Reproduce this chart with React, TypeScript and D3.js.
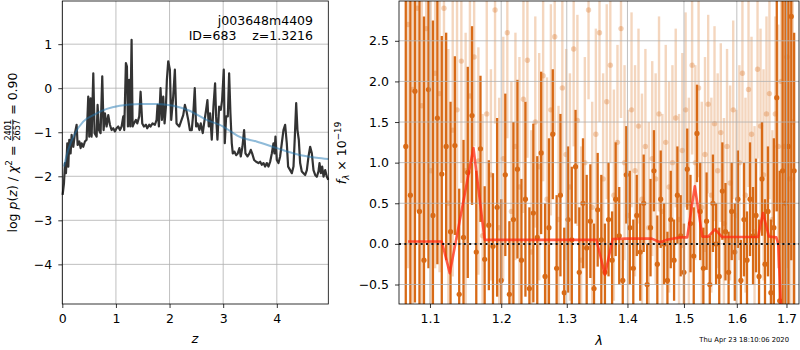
import { useEffect, useRef } from "react";
import * as d3 from "d3";

// p(z) curve: redshift grid and log p(z)
const pzZ = [
  0.006, 0.031, 0.05, 0.068, 0.093, 0.112, 0.13, 0.155, 0.174, 0.205,
  0.236, 0.267, 0.286, 0.317, 0.342, 0.36, 0.391, 0.422, 0.453, 0.484,
  0.503, 0.528, 0.547, 0.578, 0.602, 0.64, 0.658, 0.683, 0.714, 0.745,
  0.77, 0.795, 0.826, 0.857, 0.888, 0.919, 0.95, 0.981, 1.012, 1.043,
  1.075, 1.106, 1.137, 1.155, 1.186, 1.205, 1.224, 1.248, 1.267, 1.292,
  1.311, 1.335, 1.373, 1.398, 1.435, 1.46, 1.491, 1.522, 1.559, 1.584,
  1.621, 1.646, 1.683, 1.727, 1.758, 1.776, 1.801, 1.832, 1.857, 1.882,
  1.907, 1.932, 1.95, 1.975, 2.006, 2.031, 2.068, 2.099, 2.13, 2.18,
  2.224, 2.255, 2.286, 2.317, 2.348, 2.379, 2.414, 2.445, 2.47, 2.495,
  2.52, 2.557, 2.582, 2.619, 2.644, 2.682, 2.706, 2.731, 2.756, 2.787,
  2.818, 2.849, 2.868, 2.893, 2.924, 2.955, 2.98, 3.011, 3.03, 3.055,
  3.086, 3.111, 3.135, 3.16, 3.179, 3.21, 3.241, 3.272, 3.303, 3.328,
  3.359, 3.39, 3.415, 3.453, 3.49, 3.515, 3.54, 3.577, 3.614, 3.658,
  3.689, 3.72, 3.751, 3.782, 3.813, 3.844, 3.876, 3.907, 3.938, 3.956,
  3.975, 4.0, 4.031, 4.062, 4.093, 4.124, 4.155, 4.186, 4.211, 4.249,
  4.28, 4.311, 4.336, 4.361, 4.385, 4.41, 4.435, 4.466, 4.497, 4.529,
  4.56, 4.591, 4.622, 4.653, 4.684, 4.715, 4.746, 4.777, 4.796, 4.821,
  4.846, 4.871, 4.902, 4.933, 4.96,
];
const pzLog = [
  -2.42, -2.16, -1.7, -1.93, -1.25, -1.78, -1.17, -1.48, -1.06, -1.33,
  -1.02, -0.83, -1.29, -1.21, -1.36, -1.25, -1.33, -1.21, -1.17, -0.19,
  -1.1, -0.23, -1.1, 0.34, -1.02, -1.1, -0.38, -0.95, -1.02, 0.27,
  -0.95, -0.57, -0.87, -0.61, -0.83, -0.95, -0.91, -0.98, -0.91, -0.87,
  -0.95, -0.87, -0.64, -0.95, 0.57, 0.49, -0.87, 0.19, -0.87, 1.1,
  -0.87, -0.8, -0.72, -0.8, -0.64, -0.08, -0.8, -0.87, -0.83, -0.91,
  -0.83, -0.87, -0.8, -0.83, -0.72, -0.38, -0.87, 0.0, -0.72, -0.19,
  -0.8, -0.42, 0.19, 0.61, 0.42, -0.72, -0.19, 0.42, -0.8, -0.87,
  -0.72, -0.61, -0.38, -0.53, -0.72, -0.95, -0.95, -0.53, 0.0, -0.87,
  -0.8, -0.95, -0.8, -1.02, -0.8, -0.49, -0.27, -0.87, -0.57, -1.17,
  -0.42, 0.11, -0.64, -1.17, -0.42, -0.49, -0.27, 0.42, -1.25, -0.64,
  -0.64, 0.34, -0.57, -1.25, -1.48, -1.44, -1.52, -1.48, -1.36, -1.55,
  -1.33, -0.95, -1.48, -1.55, -1.48, -1.4, -1.48, -1.63, -1.67, -1.7,
  -1.67, -1.74, -1.7, -1.78, -1.7, -1.78, -1.67, -1.48, -1.25, -1.48,
  -1.1, -1.63, -1.7, -1.55, -1.25, -0.95, -0.83, -1.25, -1.78, -1.86,
  -1.93, -1.78, -1.1, -0.34, -0.95, -1.17, -1.7, -1.89, -1.93, -1.97,
  -1.86, -1.55, -1.33, -1.48, -1.86, -1.97, -2.01, -1.89, -1.7, -1.93,
  -1.78, -2.01, -1.86, -2.01, -2.08,
];

// prior
const priorZ = [0.03, 0.11, 0.24, 0.39, 0.58, 0.83, 1.07, 1.45, 1.76, 2.07, 2.35, 2.69, 3.0, 3.19, 3.28, 3.62, 4.0, 4.37, 4.74, 4.96];
const priorLog = [-1.78, -1.4, -1.02, -0.76, -0.61, -0.47, -0.4, -0.36, -0.36, -0.4, -0.5, -0.72, -0.87, -1.02, -1.09, -1.21, -1.36, -1.5, -1.58, -1.61];

// spectrum, first set (solid)
const darkWave = [
  1.068, 1.074, 1.08, 1.086, 1.092, 1.098, 1.104, 1.11, 1.116, 1.122,
  1.128, 1.134, 1.14, 1.146, 1.152, 1.158, 1.164, 1.17, 1.176, 1.182,
  1.188, 1.194, 1.2, 1.206, 1.212, 1.218, 1.224, 1.23, 1.236, 1.242,
  1.248, 1.254, 1.26, 1.266, 1.272, 1.278, 1.284, 1.29, 1.296, 1.302,
  1.308, 1.314, 1.32, 1.326, 1.332, 1.338, 1.344, 1.35, 1.356, 1.362,
  1.368, 1.374, 1.38, 1.386, 1.392, 1.398, 1.404, 1.41, 1.416, 1.422,
  1.428, 1.434, 1.44, 1.446, 1.452, 1.458, 1.464, 1.47, 1.476, 1.482,
  1.488, 1.494, 1.5, 1.506, 1.512, 1.518, 1.524, 1.53, 1.536, 1.542,
  1.548, 1.554, 1.56, 1.566, 1.572, 1.578, 1.584, 1.59, 1.596, 1.602,
  1.608, 1.614, 1.62, 1.626, 1.632, 1.638, 1.644, 1.65, 1.656, 1.662,
  1.668, 1.674, 1.68, 1.686, 1.692, 1.698, 1.704, 1.71, 1.716,
];
const darkFlux = [
  1.2, 0.6, 1.88, 0.4, -0.2, 1.9, 0.35, 1.55, 0.86, 1.2,
  0.15, 1.21, -0.62, 0.08, 0.88, 1.58, -0.1, 1.17, -0.19, 0.23,
  -0.03, 0.45, -0.45, 0.85, -0.62, 0.3, 0.92, -0.2, 0.55, -0.55,
  0.38, 0.08, 1.12, -0.4, 0.2, 1.35, -0.3, 0.6, -0.6, 0.3,
  0.05, 0.95, -0.35, 0.5, -0.05, 0.28, -0.55, 0.42, 0.05, -0.35,
  0.3, -0.2, 0.55, 0.1, -0.45, 0.85, 0.2, -0.3, 0.35, -0.1,
  0.5, -0.5, 0.2, 0.9, -0.25, 0.55, 0.0, -0.45, 0.3, -0.2,
  0.6, 0.1, -0.35, 0.92, 0.25, -0.15, 1.36, 0.4, -0.3, 0.28,
  -0.5, 0.5, 0.0, -0.4, 0.65, 0.15, -0.35, 0.4, -0.1, 0.55,
  -0.45, 0.3, -0.2, 0.55, 0.1, 0.35, -0.4, 0.8, -0.25, 0.4,
  -0.6, 0.2, 1.8, -0.7, 0.9, 0.5, 1.2, 2.8, 0.9,
];
const darkErr = [
  3.5, 3.2, 2.6, 2.9, 3.0, 2.2, 2.4, 1.8, 1.7, 1.4,
  1.6, 1.1, 1.3, 1.2, 1.3, 1.1, 1.0, 0.9, 0.9, 0.8,
  0.9, 1.1, 1.0, 1.0, 0.9, 1.2, 1.1, 1.0, 1.2, 1.0,
  1.1, 1.0, 1.0, 0.9, 1.1, 0.8, 0.9, 1.0, 0.8, 0.9,
  0.9, 0.7, 0.8, 0.8, 0.9, 0.7, 0.8, 0.7, 0.8, 0.6,
  0.7, 0.6, 0.7, 0.6, 0.5, 0.6, 0.7, 0.6, 0.5, 0.6,
  0.6, 0.5, 0.6, 0.5, 0.6, 0.6, 0.5, 0.6, 0.6, 0.5,
  0.6, 0.5, 0.6, 0.5, 0.6, 0.6, 0.6, 0.6, 0.5, 0.6,
  0.6, 0.6, 0.5, 0.6, 0.6, 0.6, 0.5, 0.6, 0.6, 0.6,
  0.5, 0.7, 0.6, 0.7, 0.6, 0.7, 0.7, 0.7, 0.8, 0.8,
  0.9, 1.1, 1.4, 1.6, 2.8, 3.5, 3.0, 3.0, 1.7,
];

// spectrum, second set (faint)
const lightWave = [
  1.071, 1.077, 1.083, 1.089, 1.095, 1.101, 1.107, 1.113, 1.119, 1.125,
  1.131, 1.137, 1.143, 1.149, 1.155, 1.161, 1.167, 1.173, 1.179, 1.185,
  1.191, 1.197, 1.203, 1.209, 1.215, 1.221, 1.227, 1.233, 1.239, 1.245,
  1.251, 1.257, 1.263, 1.269, 1.275, 1.281, 1.287, 1.293, 1.299, 1.305,
  1.311, 1.317, 1.323, 1.329, 1.335, 1.341, 1.347, 1.353, 1.359, 1.365,
  1.371, 1.377, 1.383, 1.389, 1.395, 1.401, 1.407, 1.413, 1.419, 1.425,
  1.431, 1.437, 1.443, 1.449, 1.455, 1.461, 1.467, 1.473, 1.479, 1.485,
  1.491, 1.497, 1.503, 1.509, 1.515, 1.521, 1.527, 1.533, 1.539, 1.545,
  1.551, 1.557, 1.563, 1.569, 1.575, 1.581, 1.587, 1.593, 1.599, 1.605,
  1.611, 1.617, 1.623, 1.629, 1.635, 1.641, 1.647, 1.653, 1.659, 1.665,
  1.671, 1.677, 1.683, 1.689, 1.695, 1.701, 1.707, 1.713,
];
const lightFlux = [
  2.7, 1.9, 2.9, 1.7, 2.65, 0.9, 2.1, 1.85, 2.9, 0.5,
  1.4, 1.65, 2.25, 0.9, 1.82, 2.3, 1.02, 0.1, 1.6, 0.85,
  2.88, 0.2, 1.05, 2.6, 0.4, 1.2, 0.7, 1.78, 2.26, -0.1,
  1.5, 0.95, 2.07, 0.55, 1.65, 2.55, 0.3, 1.92, 1.1, 0.7,
  2.4, 1.52, -0.2, 1.0, 2.88, 0.45, 1.35, 2.6, 0.8, 1.75,
  2.2, 0.6, 1.25, 2.65, 1.0, 0.35, 1.65, 0.9, 1.45, 0.55,
  1.2, 0.2, 1.05, 0.8, 1.6, 0.4, 1.25, 0.7, 1.0, 1.55,
  0.3, 1.15, 1.65, 0.5, 2.2, 1.0, 1.92, 0.45, 1.1, 1.72,
  0.6, 1.48, 0.9, 1.37, 0.25, 1.2, 0.75, 1.65, 0.35, 1.0,
  2.1, 0.6, 1.9, 1.35, 0.15, 2.15, 1.45, 0.85, 1.6, 1.85,
  0.3, 1.6, 1.2, 2.0, 1.2, 2.3, 0.8, 1.5,
];
const lightErr = [
  3.0, 3.2, 2.5, 2.8, 2.6, 2.9, 2.4, 2.2, 2.0, 1.9,
  1.8, 1.6, 1.5, 1.7, 1.3, 1.1, 1.4, 1.5, 1.4, 1.3,
  1.4, 1.6, 1.5, 1.3, 1.6, 1.4, 1.6, 1.4, 1.2, 1.5,
  1.3, 1.4, 1.3, 1.5, 1.3, 1.2, 1.4, 1.3, 1.3, 1.4,
  1.2, 1.3, 1.4, 1.3, 1.1, 1.3, 1.3, 1.1, 1.3, 1.2,
  1.2, 1.3, 1.2, 1.1, 1.2, 1.3, 1.2, 1.3, 1.2, 1.3,
  1.2, 1.3, 1.2, 1.3, 1.2, 1.2, 1.2, 1.3, 1.2, 1.1,
  1.3, 1.2, 1.2, 1.3, 1.1, 1.2, 1.1, 1.3, 1.2, 1.1,
  1.2, 1.2, 1.2, 1.1, 1.3, 1.2, 1.2, 1.1, 1.3, 1.2,
  1.1, 1.2, 1.2, 1.2, 1.3, 1.1, 1.2, 1.3, 1.2, 1.3,
  1.1, 1.2, 1.5, 2.0, 2.6, 2.6, 3.0, 3.0,
];

// best-fit model
const modelWave = [1.071, 1.095, 1.116, 1.127, 1.16, 1.176, 1.2, 1.3, 1.348, 1.362, 1.375, 1.4, 1.442, 1.457, 1.469, 1.493, 1.506, 1.52, 1.534, 1.545, 1.558, 1.571, 1.642, 1.652, 1.664, 1.679, 1.683, 1.69];
const modelFlux = [0.03, 0.03, 0.03, -0.36, 1.18, 0.05, 0.05, 0.05, 0.05, -0.38, 0.06, 0.065, 0.065, 0.02, 0.05, 0.08, 0.08, 0.71, 0.09, 0.09, 0.18, 0.085, 0.085, 0.38, 0.09, 0.08, 0.0, -1.0];

const zTicks = [0, 1, 2, 3, 4];
const pzTicks = [-4, -3, -2, -1, 0, 1];
const waveTicks = [1.1, 1.2, 1.3, 1.4, 1.5, 1.6, 1.7];
const fluxTicks = [-0.5, 0, 0.5, 1, 1.5, 2, 2.5];

const FONT = "DejaVu Sans";
const ORANGE = "#d86a16";
const GRID = "#b0b0b0";

export default function App() {
  const svgRef = useRef<SVGSVGElement>(null);

  useEffect(() => {
    const svg = d3.select(svgRef.current);
    svg.selectAll("*").remove();

    const styleAxis = (g: any) => {
      g.attr("font-size", 12.5).attr("font-family", FONT);
      g.select(".domain").remove();
      g.selectAll(".tick line").attr("stroke-width", 0.8);
    };

    // ---------- left panel: p(z)
    const lx = d3.scaleLinear().domain([0, 4.96]).range([62.3, 328.3]);
    const ly = d3.scaleLinear().domain([-4.9, 1.98]).range([304, 1]);
    const left = svg.append("g");

    left.selectAll(".gx").data(zTicks).enter().append("line")
      .attr("x1", (d) => lx(d)).attr("x2", (d) => lx(d)).attr("y1", 1).attr("y2", 304)
      .attr("stroke", GRID).attr("stroke-width", 0.8);
    left.selectAll(".gy").data(pzTicks).enter().append("line")
      .attr("x1", 62.3).attr("x2", 328.3).attr("y1", (d) => ly(d)).attr("y2", (d) => ly(d))
      .attr("stroke", GRID).attr("stroke-width", 0.8);

    const pzLine = d3.line<number>().x((d, i) => lx(pzZ[i])).y((d) => ly(d));
    left.append("path").datum(pzLog).attr("d", pzLine)
      .attr("fill", "none").attr("stroke", "#333").attr("stroke-width", 2.2).attr("stroke-linejoin", "round");

    const priorLine = d3.line<number>().x((d, i) => lx(priorZ[i])).y((d) => ly(d)).curve(d3.curveMonotoneX);
    left.append("path").datum(priorLog).attr("d", priorLine)
      .attr("fill", "none").attr("stroke", "#1f77b4").attr("stroke-opacity", 0.5).attr("stroke-width", 2);

    left.append("g").attr("transform", "translate(62.3,0)")
      .call(d3.axisLeft(ly).tickValues(pzTicks).tickSize(4).tickPadding(6).tickFormat(d3.format("d")))
      .call(styleAxis);
    left.append("g").attr("transform", "translate(0,304)")
      .call(d3.axisBottom(lx).tickValues(zTicks).tickSize(4).tickPadding(6).tickFormat(d3.format("d")))
      .call(styleAxis);
    left.append("rect").attr("x", 62.3).attr("y", 1).attr("width", 266).attr("height", 303)
      .attr("fill", "none").attr("stroke", "black").attr("stroke-width", 0.8);

    left.append("text").attr("x", 313).attr("y", 25).attr("text-anchor", "end")
      .attr("font-family", FONT).attr("font-size", 12.5).text("j003648m4409");
    left.append("text").attr("x", 313).attr("y", 39.5).attr("text-anchor", "end")
      .attr("font-family", FONT).attr("font-size", 12.5).style("white-space", "pre").text("ID=683    z=1.3216");

    left.append("text").attr("x", 195).attr("y", 343).attr("text-anchor", "middle")
      .attr("font-family", FONT).attr("font-size", 13).attr("font-style", "italic").text("z");

    // y label with a small fraction, laid out piece by piece
    const lab = svg.append("g").attr("font-family", FONT);
    let cx = 0;
    const piece = (txt: string, o: { italic?: boolean; size?: number; y?: number; stay?: boolean } = {}) => {
      const t = lab.append("text").attr("x", cx).attr("y", o.y ?? 0)
        .attr("font-size", o.size ?? 12.5).attr("font-style", o.italic ? "italic" : "normal")
        .style("white-space", "pre").text(txt);
      const w = (t.node() as SVGTextElement).getComputedTextLength();
      if (!o.stay) cx += w;
      return w;
    };
    piece("log ");
    piece("p", { italic: true });
    piece("(");
    piece("z", { italic: true });
    piece(") / ");
    piece("χ", { italic: true });
    piece("2", { size: 8.8, y: -5 });
    piece(" = ");
    cx += 1;
    const fx = cx;
    const fw = piece("2401", { size: 8.2, y: -5.6, stay: true });
    piece("2657", { size: 8.2, y: 2.6, stay: true });
    lab.append("line").attr("x1", fx - 0.5).attr("x2", fx + fw + 0.5).attr("y1", -4.3).attr("y2", -4.3)
      .attr("stroke", "black").attr("stroke-width", 0.7);
    cx += fw + 1;
    piece(" = 0.90");
    lab.attr("transform", `translate(17,152.5) rotate(-90) translate(${-cx / 2},0)`);

    // ---------- right panel: spectrum
    const rx = d3.scaleLog().domain([1.0592, 1.7262]).range([399, 799]);
    const ry = d3.scaleLinear().domain([-0.74, 2.99]).range([304, 1]);
    const right = svg.append("g");

    svg.append("defs").append("clipPath").attr("id", "specClip")
      .append("rect").attr("x", 399).attr("y", 1).attr("width", 400).attr("height", 303);
    const plot = right.append("g").attr("clip-path", "url(#specClip)");

    const lightIdx = d3.range(lightWave.length);
    plot.selectAll(".lbar").data(lightIdx).enter().append("line")
      .attr("x1", (i) => rx(lightWave[i])).attr("x2", (i) => rx(lightWave[i]))
      .attr("y1", (i) => ry(lightFlux[i] - lightErr[i])).attr("y2", (i) => ry(lightFlux[i] + lightErr[i]))
      .attr("stroke", ORANGE).attr("stroke-opacity", 0.28).attr("stroke-width", 2.4);
    plot.selectAll(".ldot").data(lightIdx).enter().append("circle")
      .attr("cx", (i) => rx(lightWave[i])).attr("cy", (i) => ry(lightFlux[i])).attr("r", 2.7)
      .attr("fill", ORANGE).attr("fill-opacity", 0.3);

    const darkIdx = d3.range(darkWave.length);
    plot.selectAll(".dbar").data(darkIdx).enter().append("line")
      .attr("x1", (i) => rx(darkWave[i])).attr("x2", (i) => rx(darkWave[i]))
      .attr("y1", (i) => ry(darkFlux[i] - darkErr[i])).attr("y2", (i) => ry(darkFlux[i] + darkErr[i]))
      .attr("stroke", ORANGE).attr("stroke-width", 2.3);
    plot.selectAll(".ddot").data(darkIdx).enter().append("circle")
      .attr("cx", (i) => rx(darkWave[i])).attr("cy", (i) => ry(darkFlux[i])).attr("r", 2.6)
      .attr("fill", ORANGE);

    plot.selectAll(".gx").data(waveTicks).enter().append("line")
      .attr("x1", (d) => rx(d)).attr("x2", (d) => rx(d)).attr("y1", 1).attr("y2", 304)
      .attr("stroke", GRID).attr("stroke-width", 0.8);
    plot.selectAll(".gy").data(fluxTicks).enter().append("line")
      .attr("x1", 399).attr("x2", 799).attr("y1", (d) => ry(d)).attr("y2", (d) => ry(d))
      .attr("stroke", GRID).attr("stroke-width", 0.8);

    const modelLine = d3.line<number>().x((d, i) => rx(modelWave[i])).y((d) => ry(d));
    plot.append("path").datum(modelFlux).attr("d", modelLine)
      .attr("fill", "none").attr("stroke", "#ff2a10").attr("stroke-opacity", 0.75)
      .attr("stroke-width", 2.6).attr("stroke-linejoin", "round");

    plot.append("line").attr("x1", 399).attr("x2", 799).attr("y1", ry(0)).attr("y2", ry(0))
      .attr("stroke", "#111").attr("stroke-width", 2).attr("stroke-dasharray", "2,3.4");

    right.append("g").attr("transform", "translate(399,0)")
      .call(d3.axisLeft(ry).tickValues(fluxTicks).tickSize(4).tickPadding(6).tickFormat(d3.format(".1f")))
      .call(styleAxis);
    right.append("g").attr("transform", "translate(0,304)")
      .call(d3.axisBottom(rx).tickValues(waveTicks).tickSize(4).tickPadding(6).tickFormat(d3.format(".1f")))
      .call(styleAxis);
    right.append("rect").attr("x", 399).attr("y", 1).attr("width", 400).attr("height", 303)
      .attr("fill", "none").attr("stroke", "black").attr("stroke-width", 0.8);

    right.append("text").attr("x", 599).attr("y", 345).attr("text-anchor", "middle")
      .attr("font-family", FONT).attr("font-size", 13).attr("font-style", "italic").text("λ");

    const fl = right.append("text").attr("transform", "translate(346,153) rotate(-90)")
      .attr("text-anchor", "middle").attr("font-family", FONT).attr("font-size", 12.5)
      .style("white-space", "pre");
    fl.append("tspan").attr("font-style", "italic").text("f");
    fl.append("tspan").attr("font-style", "italic").attr("font-size", 8.8).attr("dy", 3).text("λ");
    fl.append("tspan").attr("dy", -3).text(" × 10");
    fl.append("tspan").attr("font-size", 8.8).attr("dy", -5).text("−19");

    svg.append("text").attr("x", 789).attr("y", 342).attr("text-anchor", "end")
      .attr("font-family", FONT).attr("font-size", 6.8).text("Thu Apr 23 18:10:06 2020");
  }, []);

  return (
    <svg
      ref={svgRef}
      width={800}
      height={350}
      style={{ position: "absolute", left: 0, top: 0, background: "white" }}
    />
  );
}
